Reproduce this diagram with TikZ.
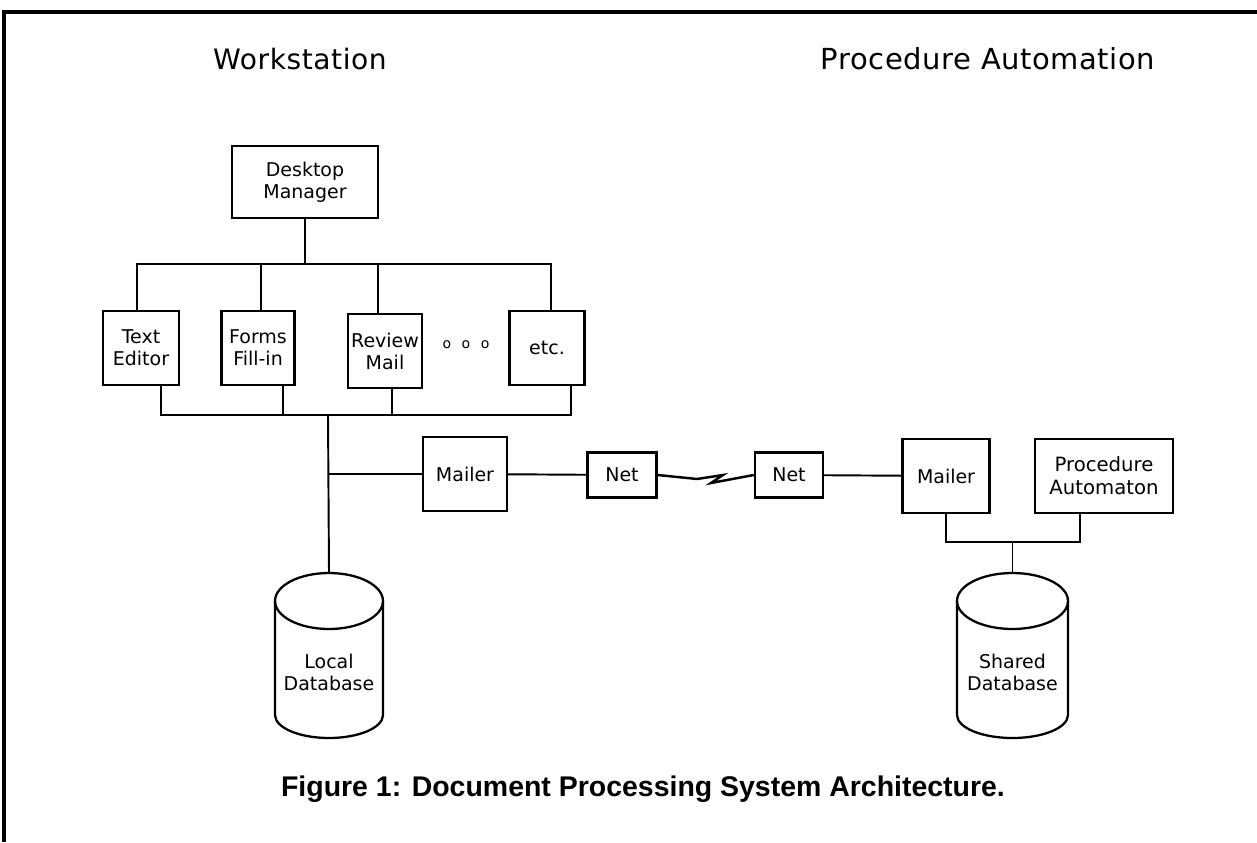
\documentclass[tikz,border=0pt]{standalone}
\usepackage{fontspec}
\setmainfont{DejaVu Sans}
\newfontfamily\headfont{DejaVu Sans}[LetterSpace=2.0]
\newfontfamily\capfont{Liberation Sans}
\usetikzlibrary{calc}

\begin{document}
\begin{tikzpicture}[x=0.02cm, y=-0.02cm,
  box/.style={draw, line width=1.4pt, inner sep=0pt, align=center, font=\fontsize{10.8}{12.5}\selectfont},
  wire/.style={line width=1.1pt},
  dbline/.style={line width=1.3pt}]
  \useasboundingbox (0,0) rectangle (1257,842);

  % Frame
  \draw[line width=1.8pt] (4,842) -- (4,12) -- (1257,12);

  % Headings
  \node[font=\headfont\fontsize{16}{19}\selectfont] (ws) at (300,59) {Workstation};
  \node[font=\headfont\fontsize{16.5}{19}\selectfont] (pa) at (988,59) {Procedure Automation};

  % Workstation side
  \node[box, minimum width=2.92cm, minimum height=1.44cm] (desk) at (305,182) {Desktop\\Manager};
  \node[box, minimum width=1.52cm, minimum height=1.48cm] (ted) at (141,348) {Text\\Editor};
  \node[box, minimum width=1.46cm, minimum height=1.48cm] (forms) at (258,348) {Forms\\Fill-in};
  \node[box, minimum width=1.48cm, minimum height=1.48cm] (review) at (385,351) {Review\\Mail};
  \node[font=\fontsize{8}{10}\selectfont] (dots) at (466,345) {o\hspace{6pt}o\hspace{6pt}o};
  \node[box, minimum width=1.5cm, minimum height=1.48cm] (etc) at (547,348) {etc.};
  \node[box, minimum width=1.68cm, minimum height=1.48cm] (mail1) at (465,474) {Mailer};
  \node[box, minimum width=1.38cm, minimum height=0.9cm] (net1) at (622,475) {Net};

  % Procedure automation side
  \node[box, minimum width=1.36cm, minimum height=0.9cm] (net2) at (789,475) {Net};
  \node[box, minimum width=1.74cm, minimum height=1.48cm] (mail2) at (946,476) {Mailer};
  \node[box, minimum width=2.76cm, minimum height=1.48cm, font=\fontsize{11.2}{13}\selectfont] (proc) at (1104,476) {Procedure\\Automaton};

  % Databases
  \draw[dbline] (275,601) -- (275,715) arc[start angle=180, end angle=360, x radius=1.08cm, y radius=0.46cm] -- (383,601);
  \draw[dbline] (329,601) ellipse [x radius=1.08cm, y radius=0.56cm];
  \coordinate (ldbtop) at (329,573);
  \node[align=center, font=\fontsize{10.8}{12.5}\selectfont] (ldb) at (329,672) {Local\\Database};

  \draw[dbline] (957,601) -- (957,715) arc[start angle=180, end angle=360, x radius=1.11cm, y radius=0.46cm] -- (1068,601);
  \draw[dbline] (1012.5,601) ellipse [x radius=1.11cm, y radius=0.56cm];
  \coordinate (sdbtop) at (1012.5,573);
  \node[align=center, font=\fontsize{10.8}{12.5}\selectfont] (sdb) at (1012.5,672) {Shared\\Database};

  % Connectors
  \coordinate (topbus) at (305,264);
  \coordinate (lowbus) at (328,415);
  \coordinate (sjoin) at (1012.5,542);
  \draw[wire] (desk.south) -- (topbus);
  \draw[wire] ([xshift=-0.08cm]ted.north) |- (topbus) -| ([xshift=0.08cm]etc.north);
  \draw[wire] ([xshift=0.06cm]forms.north) -- ([xshift=0.06cm]forms.north |- topbus);
  \draw[wire] ([xshift=-0.14cm]review.north) -- ([xshift=-0.14cm]review.north |- topbus);
  \draw[wire] ([xshift=0.4cm]ted.south) |- (lowbus) -| ([xshift=0.48cm]etc.south);
  \draw[wire] ([xshift=0.5cm]forms.south) -- ([xshift=0.5cm]forms.south |- lowbus);
  \draw[wire] ([xshift=0.14cm]review.south) -- ([xshift=0.14cm]review.south |- lowbus);
  \draw[wire] (lowbus) -- (ldbtop);
  \draw[wire] (mail1.west) -- (mail1.west -| lowbus);
  \draw[wire] (mail1) -- (net1);
  \draw[wire, line width=1.4pt, line join=miter] (net1.east) -- (697,479) -- (723,475) -- (711,483) -- (net2.west);
  \draw[wire] (net2) -- (mail2);
  \draw[wire] (mail2.south) |- (sjoin) -| ([xshift=-0.48cm]proc.south);
  \draw[wire] (sjoin) -- (sdbtop);

  % Caption
  \node[font=\capfont\bfseries\fontsize{16.2}{19}\selectfont] (cap) at (643,789) {Figure 1: Document Processing System Architecture.};
\end{tikzpicture}
\end{document}
